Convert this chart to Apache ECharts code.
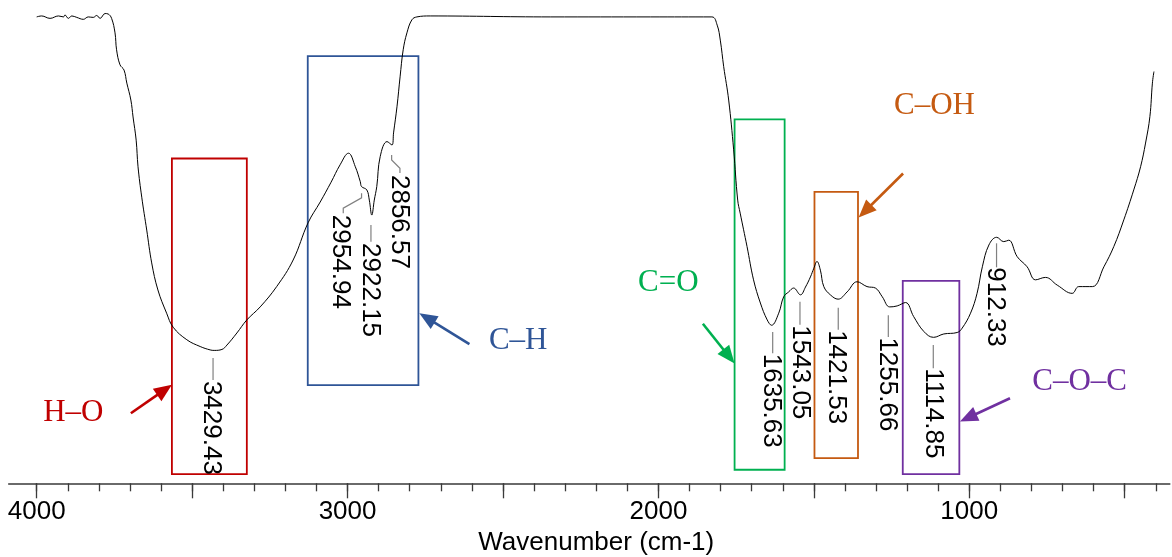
<!DOCTYPE html>
<html>
<head>
<meta charset="utf-8">
<title>FTIR spectrum</title>
<script src="https://cdn.jsdelivr.net/npm/echarts@6.0.0/dist/echarts.min.js"></script>
<style>
    html, body { margin: 0; padding: 0; background: #fff; }
    #chart { width: 1172px; height: 557px; }
</style>
</head>
<body>
<div id="chart"></div>
<script>
// spectrum: wavenumber (cm-1) and transmittance (%)
var wavenumbers = [4000, 3984, 3957, 3930, 3914, 3909, 3898, 3887, 3871, 3850,
    3834, 3818, 3807, 3796, 3780, 3770, 3759, 3748, 3743, 3732,
    3719, 3710, 3697, 3690, 3680, 3674, 3662, 3646, 3630, 3610,
    3582, 3561, 3517, 3474, 3442, 3429, 3404, 3388, 3356, 3324,
    3281, 3228, 3175, 3127, 3088, 3053, 3024, 2997, 2975, 2959,
    2955, 2938, 2930, 2922, 2914, 2906, 2895, 2873, 2857, 2852,
    2841, 2831, 2821, 2809, 2793, 2777, 2734, 2348, 2026, 1828,
    1811, 1801, 1790, 1774, 1758, 1745, 1737, 1715, 1694, 1672,
    1650, 1636, 1613, 1597, 1581, 1565, 1543, 1527, 1511, 1500,
    1490, 1479, 1468, 1447, 1422, 1393, 1361, 1329, 1302, 1280,
    1256, 1232, 1205, 1179, 1146, 1115, 1082, 1039, 1023, 996,
    975, 958, 937, 912, 889, 873, 846, 814, 787, 755,
    717, 669, 648, 604, 567, 535, 503, 471, 449, 433,
    419, 411, 406];
var transmittance = [96.5, 96.7, 96.2, 96.7, 96.5, 96.9, 96.2, 96.7, 96.4, 96.0,
    96.5, 96.4, 96.8, 96.2, 97.2, 97.1, 96.2, 93.2, 89.7, 86.6,
    85.5, 82.8, 79.3, 75.8, 71.0, 65.5, 59.2, 52.4, 45.6, 40.0,
    35.2, 32.3, 29.7, 28.3, 27.6, 27.5, 27.7, 28.6, 31.1, 33.8,
    36.5, 40.7, 46.2, 53.9, 58.2, 62.3, 65.9, 68.3, 65.5, 62.4,
    61.4, 60.7, 58.6, 55.5, 58.6, 61.4, 67.6, 70.7, 70.0, 72.5,
    77.9, 84.1, 89.7, 93.2, 95.9, 96.5, 96.7, 96.5, 96.5, 96.5,
    94.8, 91.7, 86.2, 79.3, 69.0, 58.6, 55.9, 49.0, 42.1, 37.3,
    33.8, 32.7, 35.2, 38.6, 39.6, 40.4, 39.0, 40.6, 42.7, 44.5,
    45.9, 44.1, 40.7, 39.0, 38.1, 39.6, 41.7, 40.7, 40.4, 38.6,
    36.5, 36.7, 37.4, 34.5, 31.4, 30.2, 30.9, 31.2, 32.1, 35.2,
    39.3, 44.8, 49.3, 50.9, 50.0, 50.3, 46.9, 44.8, 42.1, 42.6,
    41.0, 39.3, 40.7, 40.7, 44.8, 49.0, 54.5, 60.7, 65.5, 70.4,
    75.9, 82.8, 85.2];

// picked peaks
var peakWavenumbers = [3429.43, 2954.94, 2922.15, 2856.57, 1635.63, 1543.05, 1421.53, 1255.66, 1114.85, 912.33];
var peakTransmittance = [27.5, 61.4, 55.5, 70.0, 32.7, 39.0, 38.1, 36.5, 30.2, 50.9];
var peakLabels = ['3429.43', '2954.94', '2922.15', '2856.57', '1635.63', '1543.05', '1421.53', '1255.66', '1114.85', '912.33'];

// functional groups: box = [wn from, wn to, T low, T high], arrow = [wn, T] -> [wn, T], label at [wn, T]
var groupNames = ['H–O', 'C–H', 'C=O', 'C–OH', 'C–O–C'];
var groupBoxes = [[3565, 3324, 1.9, 67.2], [3128, 2772, 20.3, 88.4], [1755, 1594, 2.8, 75.3], [1498, 1358, 5.2, 60.3], [1214, 1032, 1.9, 41.9]];
var groupArrows = [[3697, 14.5, 3565, 20.4], [2608, 28.8, 2769, 35.2], [1857, 33.0, 1755, 24.8], [1213, 64.1, 1356, 55.0], [869, 17.6, 1030, 12.8]];
var groupLabelAt = [[3882, 14.6], [2451, 29.4], [1968, 41.4], [1112, 78.1], [645, 21.0]];

// axis ticks
var minorTicks = [400, 500, 600, 700, 800, 900, 1000, 1100, 1200, 1300, 1400, 1500, 1600, 1700, 1800, 1900,
    2000, 2100, 2200, 2300, 2400, 2500, 2600, 2700, 2800, 2900, 3000, 3100, 3200, 3300, 3400, 3500,
    3600, 3700, 3800, 3900, 4000];
var majorTicks = [500, 1000, 1500, 2000, 2500, 3000, 3500, 4000];
var tickLabels = [1000, 2000, 3000, 4000];

var groupColors = ['#c00000', '#2f5597', '#00b050', '#c55a11', '#7030a0'];
var SANS = 'Arial, "Liberation Sans", sans-serif';
var SERIF = '"Times New Roman", "Liberation Serif", serif';

// leader line + label offsets (px) from the peak point
var peakLayout = [
    { path: [[-1, 7.5], [-1, 29.5]], text: [-2.5, 30.5] },
    { path: [[0, 6.6], [0, 11.3], [-18.3, 21.6], [-18.3, 26.6]], text: [-21, 28.3] },
    { path: [[-0.8, 10], [-0.8, 26.7]], text: [-1.8, 28] },
    { path: [[-0.5, 10], [-0.5, 15], [7.8, 23.3], [7.8, 28]], text: [6.8, 30] },
    { path: [[1, 6.7], [1, 28]], text: [-0.7, 28.5] },
    { path: [[-0.5, 7], [-0.5, 30]], text: [0.2, 30.5] },
    { path: [[0, 8.7], [0, 30.7]], text: [-1.6, 31] },
    { path: [[-1.5, 8.3], [-1.5, 30]], text: [-2.5, 30.5] },
    { path: [[-0.3, 7.7], [-0.3, 31]], text: [-0.6, 31] },
    { path: [[0, 6], [0, 30]], text: [-1.6, 30] }
];

var spectrum = wavenumbers.map(function (w, i) { return [w, transmittance[i]]; });
var peaks = peakWavenumbers.map(function (w, i) { return [w, peakTransmittance[i]]; });

function renderPeak(params, api) {
    var i = params.dataIndex;
    var p = api.coord([api.value(0), api.value(1)]);
    var lay = peakLayout[i];
    var pts = lay.path.map(function (d) { return [p[0] + d[0], p[1] + d[1]]; });
    return {
        type: 'group',
        children: [
            { type: 'polyline', shape: { points: pts }, style: { stroke: '#808080', lineWidth: 1.2, fill: null } },
            {
                type: 'text', x: p[0] + lay.text[0], y: p[1] + lay.text[1], rotation: -Math.PI / 2,
                style: { text: peakLabels[i], fontSize: 26, fontFamily: SANS, fill: '#000', align: 'left', verticalAlign: 'middle' }
            }
        ]
    };
}

function renderBox(params, api) {
    var a = api.coord([api.value(0), api.value(3)]);
    var b = api.coord([api.value(1), api.value(2)]);
    return {
        type: 'rect',
        shape: { x: Math.min(a[0], b[0]), y: a[1], width: Math.abs(b[0] - a[0]), height: b[1] - a[1] },
        style: { fill: null, stroke: groupColors[params.dataIndex], lineWidth: 1.8 }
    };
}

function renderArrow(params, api) {
    var s = api.coord([api.value(0), api.value(1)]);
    var e = api.coord([api.value(2), api.value(3)]);
    var dx = e[0] - s[0], dy = e[1] - s[1];
    var len = Math.sqrt(dx * dx + dy * dy);
    var ux = dx / len, uy = dy / len;
    var head = 18, half = 7.5;
    var bx = e[0] - ux * head, by = e[1] - uy * head;
    var col = groupColors[params.dataIndex];
    return {
        type: 'group',
        children: [
            { type: 'line', shape: { x1: s[0], y1: s[1], x2: bx + ux * 2, y2: by + uy * 2 }, style: { stroke: col, lineWidth: 2.6 } },
            {
                type: 'polygon',
                shape: { points: [[e[0], e[1]], [bx - uy * half, by + ux * half], [bx + uy * half, by - ux * half]] },
                style: { fill: col }
            }
        ]
    };
}

function renderGroupLabel(params, api) {
    var p = api.coord([api.value(0), api.value(1)]);
    return {
        type: 'text', x: p[0], y: p[1],
        style: {
            text: groupNames[params.dataIndex], fontSize: 31, fontFamily: SERIF,
            fill: groupColors[params.dataIndex], align: 'center', verticalAlign: 'middle'
        }
    };
}

var chart = echarts.init(document.getElementById('chart'));
var option = {
    animation: false,
    backgroundColor: '#fff',
    grid: { left: 8.7, right: 2.2, top: 0, bottom: 73.7, outerBoundsMode: 'none' },
    xAxis: [{
        type: 'value',
        inverse: true,
        min: 355,
        max: 4090,
        name: 'Wavenumber (cm-1)',
        nameLocation: 'middle',
        nameGap: 45,
        nameTextStyle: { fontSize: 26, fontFamily: SANS, color: '#000', padding: [0, 0, 0, 14] },
        axisLine: { lineStyle: { color: '#3a3a3a', width: 1.5 } },
        axisTick: { customValues: minorTicks, length: 8, lineStyle: { color: '#3a3a3a', width: 1.3 } },
        axisLabel: {
            customValues: tickLabels, fontSize: 26, fontFamily: SANS, color: '#000', margin: 16,
            formatter: function (v) { return String(v); }
        },
        splitLine: { show: false }
    }, {
        type: 'value',
        inverse: true,
        min: 355,
        max: 4090,
        position: 'bottom',
        axisLine: { show: false },
        axisTick: { customValues: majorTicks, length: 15, lineStyle: { color: '#3a3a3a', width: 1.3 } },
        axisLabel: { show: false },
        splitLine: { show: false }
    }],
    yAxis: { type: 'value', min: 0, max: 100, show: false },
    series: [{
        type: 'line',
        data: spectrum,
        smooth: 0.4,
        showSymbol: false,
        lineStyle: { color: '#000', width: 1 },
        z: 3
    }, {
        type: 'custom',
        data: groupBoxes,
        encode: { x: [0, 1], y: [2, 3] },
        renderItem: renderBox,
        z: 2
    }, {
        type: 'custom',
        data: groupArrows,
        encode: { x: [0, 2], y: [1, 3] },
        renderItem: renderArrow,
        z: 4
    }, {
        type: 'custom',
        data: groupLabelAt,
        renderItem: renderGroupLabel,
        z: 4
    }, {
        type: 'custom',
        data: peaks,
        renderItem: renderPeak,
        z: 5
    }]
};
chart.setOption(option);
</script>
</body>
</html>
